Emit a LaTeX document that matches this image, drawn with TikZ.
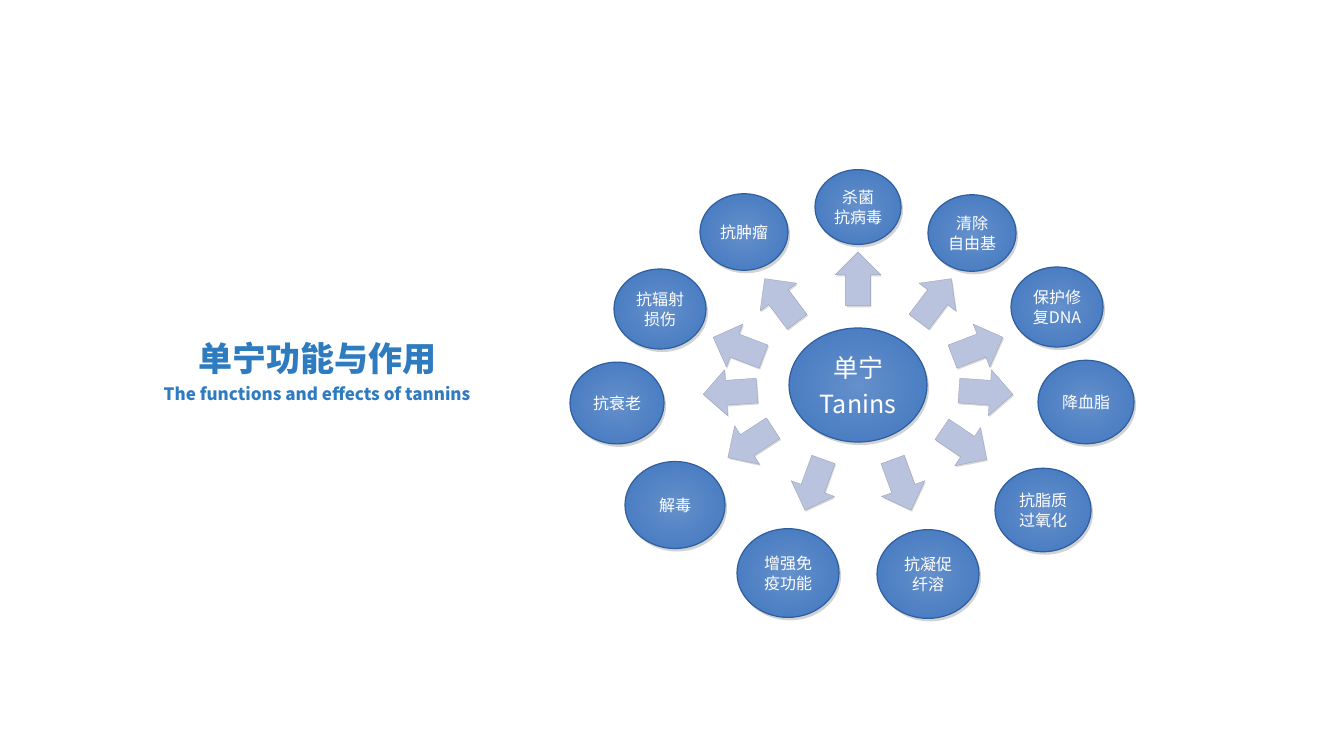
\documentclass[tikz,border=0pt]{standalone}
\usepackage{fontspec}
\setmainfont{Noto Sans CJK SC}
\usetikzlibrary{shapes.arrows,shapes.geometric,shadows}
\definecolor{ballc}{HTML}{4A7DC2}
\definecolor{balld}{HTML}{2F5E9E}
\definecolor{arrc}{HTML}{B9C3DE}
\definecolor{titc}{HTML}{2E7BC0}
\tikzset{
 ball/.style={ellipse,draw=balld,line width=1.2pt,inner color=ballc!85!white,outer color=ballc,text=white,align=center,font=\fontsize{16}{20}\selectfont,drop shadow={shadow xshift=2pt,shadow yshift=-3pt,opacity=0.35},inner sep=0pt},
 bs/.style={minimum width=#1pt,minimum height={0.87*#1pt}},
 blk/.style={single arrow,fill=arrc,draw=arrc!80!black,line width=0.3pt,minimum height=54pt,minimum width=46pt,single arrow head extend=7pt,inner sep=8pt,drop shadow={shadow xshift=1pt,shadow yshift=-1.5pt,opacity=0.3}}
}
\begin{document}
\begin{tikzpicture}[x=1pt,y=-1pt]
\useasboundingbox[fill=white] (0,0) rectangle (1322,740);
\node[text=titc,font=\fontsize{34}{38}\selectfont\bfseries] (t) at (317,358) {单宁功能与作用};
\node[text=titc,font=\fontsize{17}{19}\selectfont\bfseries] (st) at (317,394) {The functions and effects of tannins};
\node[ball,minimum width=138pt,minimum height=114pt,font=\fontsize{25}{36}\selectfont] (c) at (858,385) {单宁\\Tanins};
\foreach \a/\n in {90/a1,53/a2,21/a3,-4/a4,-34/a5,-70/a6,-110/a7,-147/a8,-176/a9,159/a10,127/a11}{
  \node[blk,rotate=\a] (\n) at ({858+122*cos(\a)},{385-100*sin(\a)}) {};
}
\node[ball,bs=86] (b1) at (858,207) {杀菌\\抗病毒};
\node[ball,bs=88] (b2) at (972,233) {清除\\自由基};
\node[ball,bs=92] (b3) at (1057,307) {保护修\\复DNA};
\node[ball,bs=96] (b4) at (1086,402) {降血脂};
\node[ball,bs=96] (b5) at (1043,510) {抗脂质\\过氧化};
\node[ball,bs=102] (b6) at (928,574) {抗凝促\\纤溶};
\node[ball,bs=102] (b7) at (788,573) {增强免\\疫功能};
\node[ball,bs=100] (b8) at (675,505) {解毒};
\node[ball,bs=94] (b9) at (617,403) {抗衰老};
\node[ball,bs=92] (b10) at (660,309) {抗辐射\\损伤};
\node[ball,bs=88] (b11) at (744,232) {抗肿瘤};
\end{tikzpicture}
\end{document}
